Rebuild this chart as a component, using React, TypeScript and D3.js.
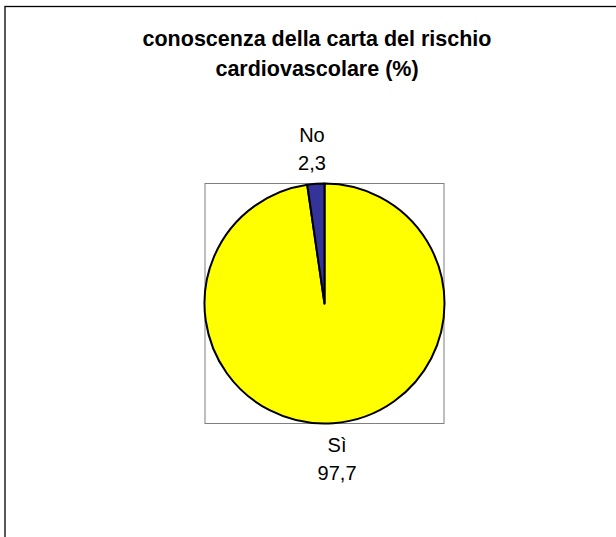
import React from "react";
import * as d3 from "d3";

const titleLines = ["conoscenza della carta del rischio", "cardiovascolare (%)"];
const categories = ["Sì", "No"];
const values = [97.7, 2.3];
const valueLabels = ["97,7", "2,3"];
const colors = ["#FFFF00", "#333399"];

const W = 616;
const H = 537;
const FONT = "'Liberation Sans', Arial, Helvetica, sans-serif";

export default function App() {
  const cx = 324.5;
  const cy = 303.5;
  const r = 120;

  const pie = d3
    .pie<number>()
    .sort(null)
    .value((d) => d)
    .startAngle(0)
    .endAngle(2 * Math.PI);
  const arcs = pie(values);
  const arcGen = d3.arc<d3.PieArcDatum<number>>().innerRadius(0).outerRadius(r);

  const labelR = r + 54;

  return (
    <svg
      width={W}
      height={H}
      style={{ position: "absolute", left: 0, top: 0, background: "#fff" }}
    >
      <rect x={0} y={0} width={W} height={H} fill="#fff" />
      {/* outer chart frame */}
      <rect x={5} y={6.5} width={800} height={800} fill="none" stroke="#000" strokeWidth={1.3} />

      {/* title */}
      <text
        x={317}
        y={46}
        textAnchor="middle"
        fontFamily={FONT}
        fontWeight="bold"
        fontSize={21.5}
        fill="#000"
      >
        {titleLines.map((t, i) => (
          <tspan key={i} x={317} dy={i === 0 ? 0 : 30}>
            {t}
          </tspan>
        ))}
      </text>

      {/* plot area box */}
      <rect
        x={cx - r + 0.5}
        y={cy - r}
        width={2 * r - 1}
        height={2 * r}
        fill="#fff"
        stroke="#7f7f7f"
        strokeWidth={1}
      />

      {/* slices */}
      <g transform={`translate(${cx},${cy})`}>
        {arcs.map((a, i) => (
          <path
            key={categories[i]}
            d={arcGen(a) || ""}
            fill={colors[i]}
            stroke="#000"
            strokeWidth={2}
            strokeLinejoin="round"
          />
        ))}
      </g>

      {/* labels */}
      {arcs.map((a, i) => {
        const mid = (a.startAngle + a.endAngle) / 2;
        const x = cx + labelR * Math.sin(mid);
        const top = Math.cos(mid) > 0;
        const y1 = top ? cy - r - 14 - 28 : cy + r + 28;
        return (
          <text
            key={categories[i]}
            textAnchor="middle"
            fontFamily={FONT}
            fontSize={20}
            fill="#000"
          >
            <tspan x={x} y={y1}>
              {categories[i]}
            </tspan>
            <tspan x={x} y={y1 + 28}>
              {valueLabels[i]}
            </tspan>
          </text>
        );
      })}
    </svg>
  );
}
